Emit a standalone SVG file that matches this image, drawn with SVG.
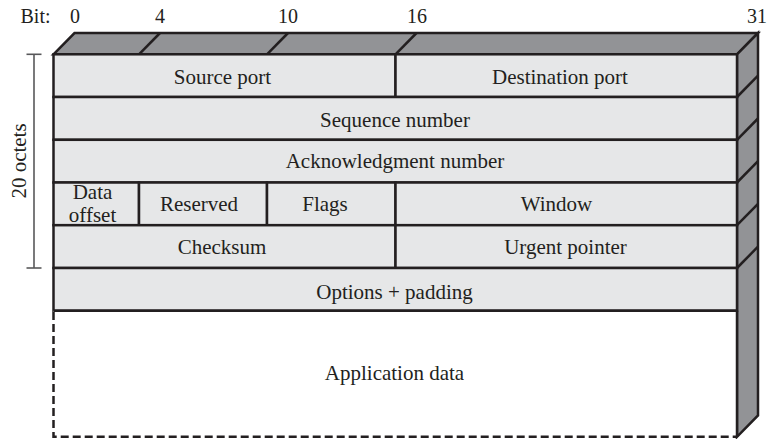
<svg xmlns="http://www.w3.org/2000/svg" width="767" height="439" viewBox="0 0 767 439">
<style>
  text { font-family: "Liberation Serif", "DejaVu Serif", serif; fill: #231f20; }
  .lbl { font-size: 21px; text-anchor: middle; }
  .bit { font-size: 20px; text-anchor: middle; }
  .row { fill: #e6e7e8; stroke: #231f20; stroke-width: 2.5; }
  .face { fill: #929396; stroke: #231f20; stroke-width: 2.5; stroke-linejoin: miter; }
  .edge { stroke: #231f20; stroke-width: 2.5; fill: none; }
  .dash { stroke: #231f20; stroke-width: 2.5; fill: none; stroke-dasharray: 8 4; }
  .scale { stroke: #58585a; stroke-width: 1.6; fill: none; }
</style>

<g id="bit-labels">
  <text class="bit" x="20.5" y="23" style="text-anchor:start">Bit:</text>
  <text class="bit" x="75" y="23">0</text>
  <text class="bit" x="160" y="23">4</text>
  <text class="bit" x="288" y="23">10</text>
  <text class="bit" x="417" y="23">16</text>
  <text class="bit" x="757" y="23">31</text>
</g>

<g id="octets-scale">
  <line class="scale" x1="34" y1="54.3" x2="34" y2="268"/>
  <line class="scale" x1="26.5" y1="54.3" x2="41.5" y2="54.3"/>
  <line class="scale" x1="26.5" y1="268" x2="41.5" y2="268"/>
  <text x="0" y="0" style="font-size:21px;text-anchor:middle" transform="translate(25.5,161) rotate(-90)">20 octets</text>
</g>

<g id="box-3d">
  <polygon class="face" points="53.5,54.3 74.5,33 758,33 737,54.3"/>
  <polygon class="face" points="737,54.3 758,33 758,415.5 737,436.8"/>
  <line class="edge" x1="139" y1="54.3" x2="160" y2="33"/>
  <line class="edge" x1="267" y1="54.3" x2="288" y2="33"/>
  <line class="edge" x1="395.5" y1="54.3" x2="416.5" y2="33"/>
  <line class="edge" x1="737" y1="97" x2="758" y2="75.7"/>
  <line class="edge" x1="737" y1="139.8" x2="758" y2="118.5"/>
  <line class="edge" x1="737" y1="182.5" x2="758" y2="161.2"/>
  <line class="edge" x1="737" y1="225.2" x2="758" y2="203.9"/>
  <line class="edge" x1="737" y1="268" x2="758" y2="246.7"/>
</g>

<g id="source-port">
  <rect class="row" x="53.5" y="54.3" width="342" height="42.7"/>
  <text class="lbl" x="222.5" y="84">Source port</text>
</g>
<g id="destination-port">
  <rect class="row" x="395.5" y="54.3" width="341.5" height="42.7"/>
  <text class="lbl" x="560" y="84">Destination port</text>
</g>
<g id="sequence-number">
  <rect class="row" x="53.5" y="97" width="683.5" height="42.8"/>
  <text class="lbl" x="395" y="126.5">Sequence number</text>
</g>
<g id="acknowledgment-number">
  <rect class="row" x="53.5" y="139.8" width="683.5" height="42.7"/>
  <text class="lbl" x="395" y="168">Acknowledgment number</text>
</g>
<g id="data-offset">
  <rect class="row" x="53.5" y="182.5" width="85.5" height="42.7"/>
  <text class="lbl" x="92.5" y="198.5">Data</text>
  <text class="lbl" x="92.5" y="221.5">offset</text>
</g>
<g id="reserved">
  <rect class="row" x="139" y="182.5" width="128" height="42.7"/>
  <text class="lbl" x="199" y="211">Reserved</text>
</g>
<g id="flags">
  <rect class="row" x="267" y="182.5" width="128.5" height="42.7"/>
  <text class="lbl" x="325" y="211">Flags</text>
</g>
<g id="window">
  <rect class="row" x="395.5" y="182.5" width="341.5" height="42.7"/>
  <text class="lbl" x="556.5" y="210.5">Window</text>
</g>
<g id="checksum">
  <rect class="row" x="53.5" y="225.2" width="342" height="42.8"/>
  <text class="lbl" x="222" y="253.5">Checksum</text>
</g>
<g id="urgent-pointer">
  <rect class="row" x="395.5" y="225.2" width="341.5" height="42.8"/>
  <text class="lbl" x="565.5" y="253.5">Urgent pointer</text>
</g>
<g id="options-padding">
  <rect class="row" x="53.5" y="268" width="683.5" height="42.7"/>
  <text class="lbl" x="394.5" y="299">Options + padding</text>
</g>
<g id="application-data">
  <rect x="53.5" y="310.7" width="683.5" height="126" fill="#ffffff"/>
  <path class="dash" d="M53.5,312 V436.8 H737"/>
  <line class="edge" x1="737" y1="310.7" x2="737" y2="436.8"/>
  <line class="edge" x1="53.5" y1="310.7" x2="737" y2="310.7"/>
  <text class="lbl" x="394.5" y="380">Application data</text>
</g>

<g id="connectors"></g>
</svg>
